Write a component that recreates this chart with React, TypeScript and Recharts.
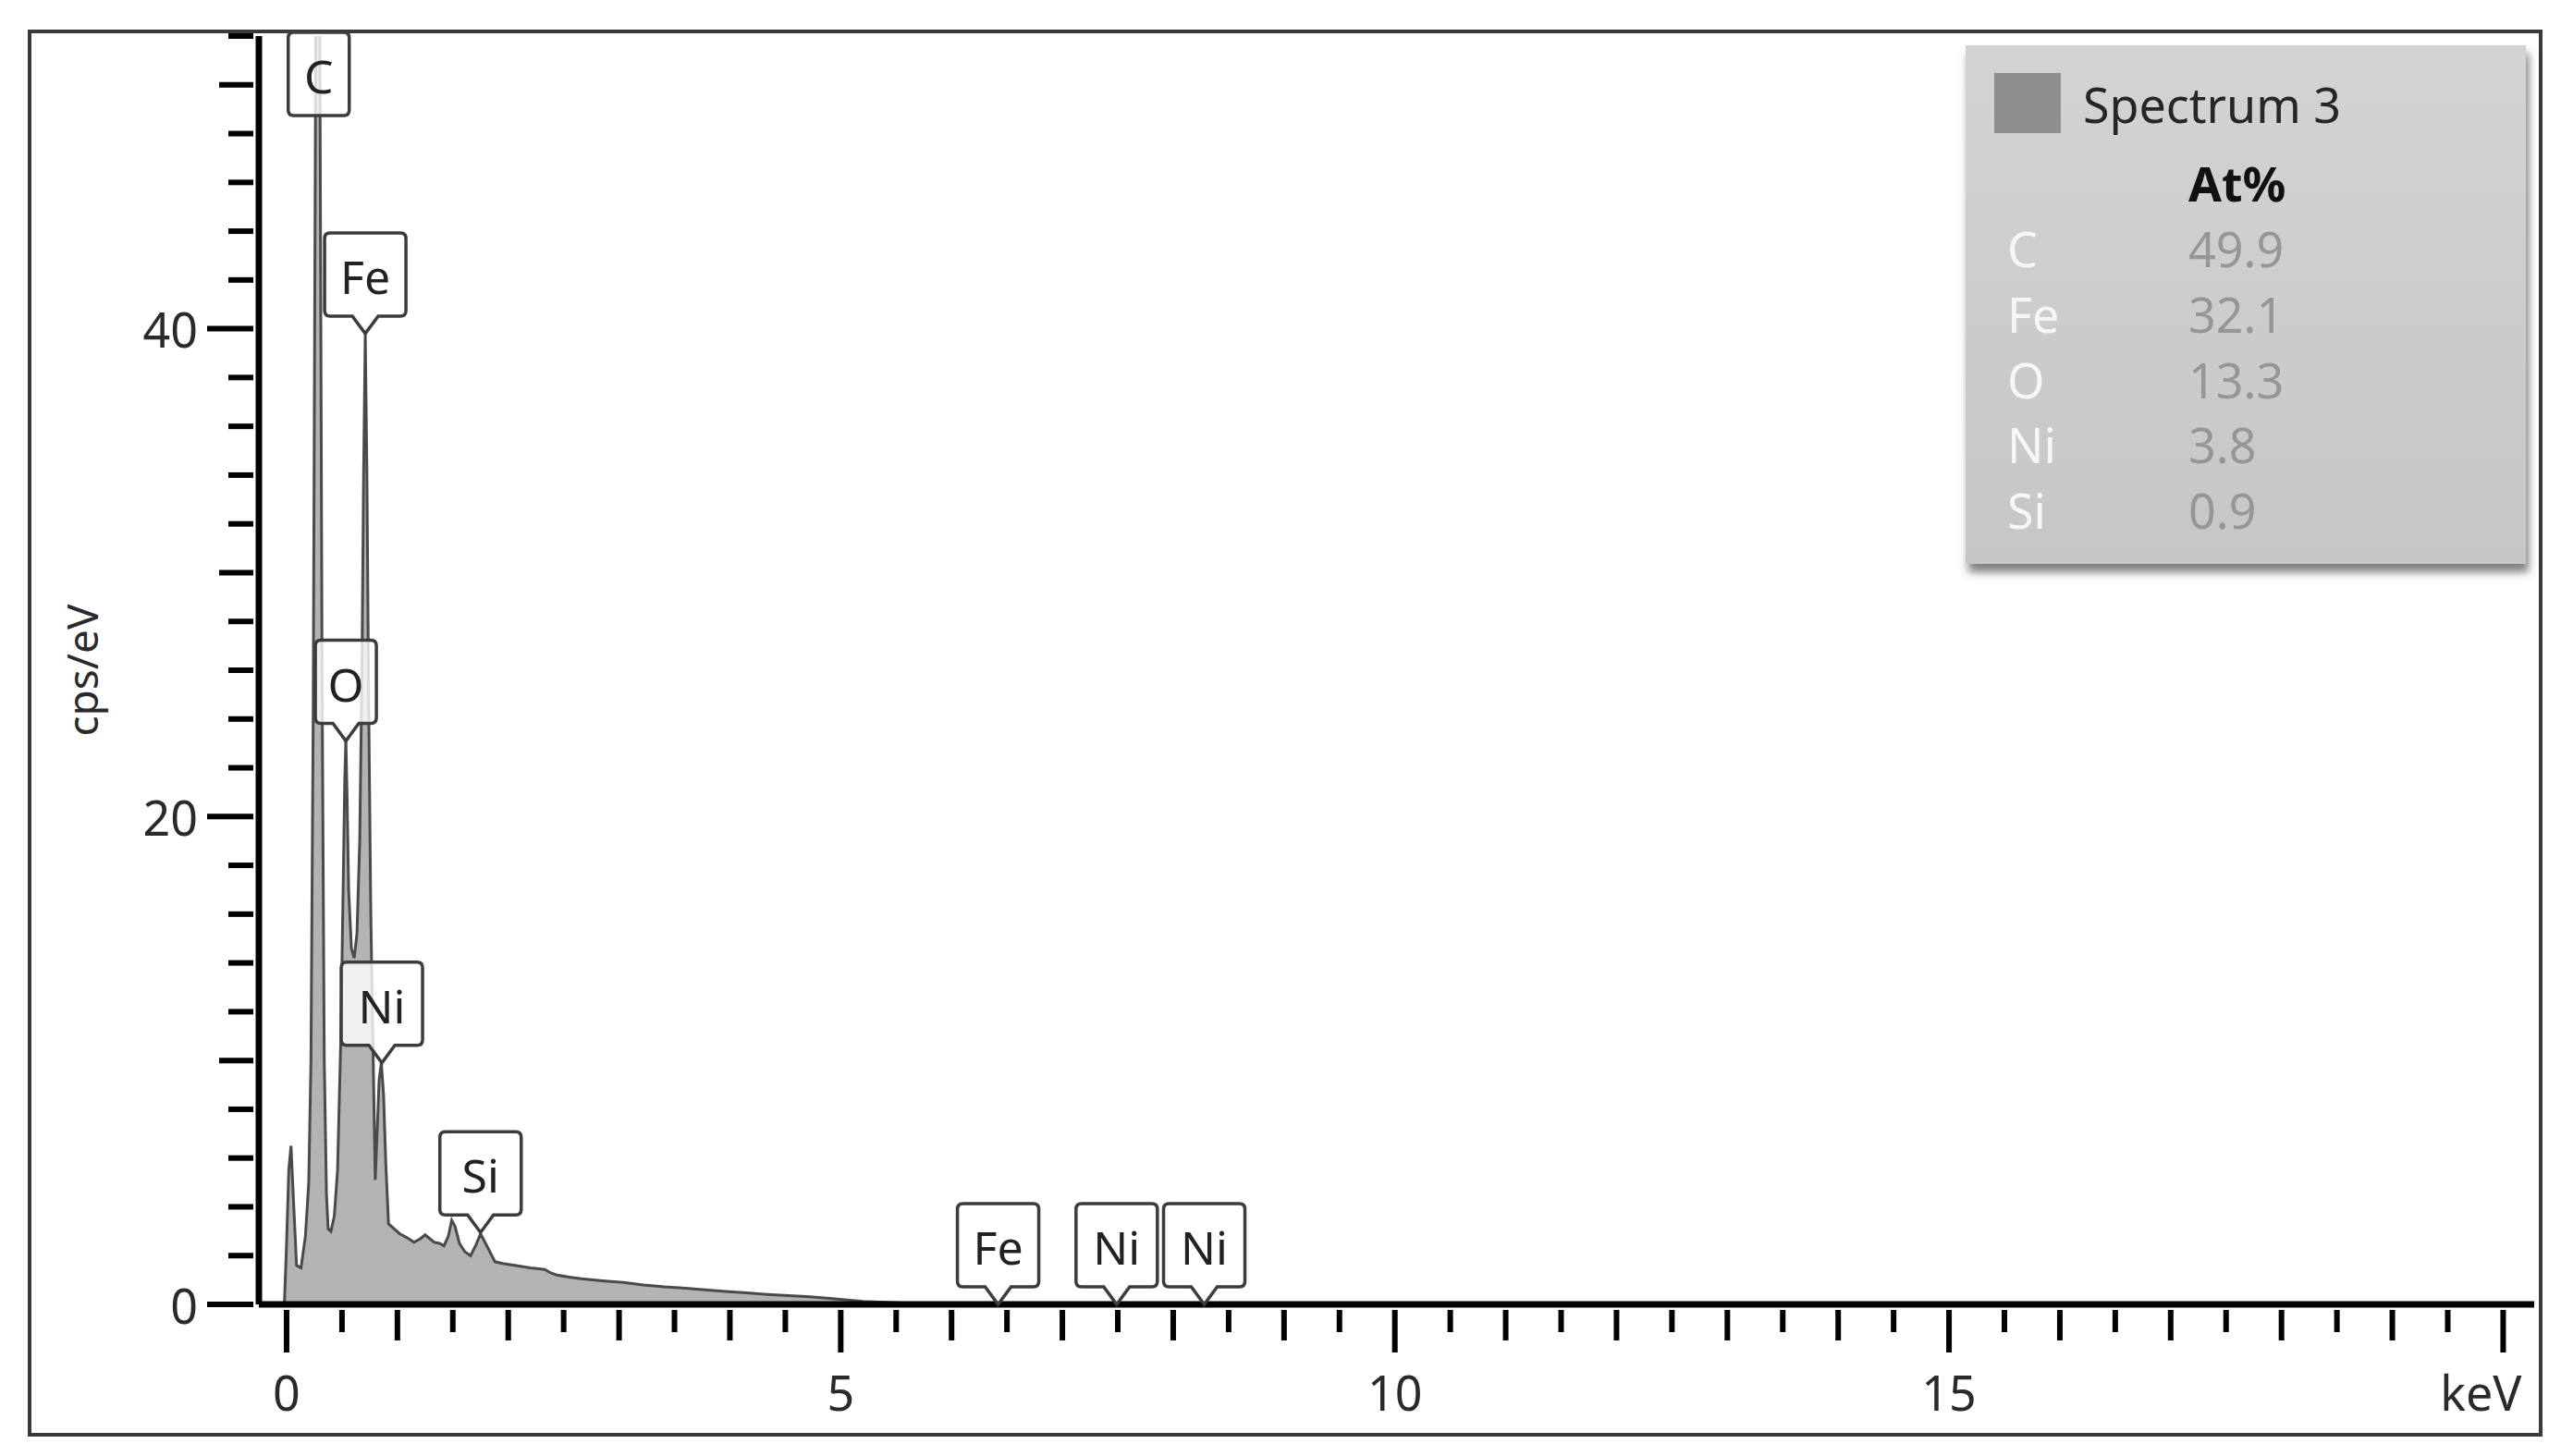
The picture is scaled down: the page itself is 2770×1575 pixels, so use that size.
import { Area, AreaChart, ReferenceDot, XAxis, YAxis } from "recharts";

// EDS spectrum: energy (keV) against counts (cps/eV).
const energyKeV = [
  -0.25, -0.02, 0.0, 0.02, 0.04, 0.06, 0.09, 0.13, 0.17, 0.2,
  0.22, 0.24, 0.26, 0.28, 0.3, 0.32, 0.34, 0.36, 0.375, 0.4,
  0.43, 0.46, 0.49, 0.51, 0.525, 0.535, 0.545, 0.56, 0.585, 0.61,
  0.635, 0.66, 0.68, 0.695, 0.71, 0.725, 0.74, 0.76, 0.78, 0.8,
  0.815, 0.835, 0.855, 0.875, 0.895, 0.92, 0.97, 1.02, 1.06, 1.1,
  1.15, 1.21, 1.25, 1.29, 1.33, 1.38, 1.42, 1.46, 1.49, 1.52,
  1.56, 1.61, 1.66, 1.71, 1.75, 1.79, 1.83, 1.88, 1.95, 2.03,
  2.11, 2.2, 2.28, 2.33, 2.38, 2.44, 2.55, 2.66, 2.85, 3.04,
  3.22, 3.41, 3.6, 3.78, 3.96, 4.15, 4.34, 4.53, 4.72, 4.9,
  5.2, 5.6, 6.5, 8.0, 20.28,
];
const countsPerEv = [
  0, 0, 2.5, 5.5, 6.5, 4.5, 1.6, 1.5, 2.8, 5,
  10, 24, 48, 70, 52, 26, 10, 4.5, 3.1, 3.0,
  3.6, 5.5, 11, 17, 21.5, 23.2, 21, 17, 14.6, 14.2,
  15.2, 19, 26, 34, 39.8, 34, 25, 16, 10.5, 5.1,
  6.8, 9.2, 9.9, 8.6, 5.8, 3.3, 3.1, 2.9, 2.8, 2.7,
  2.55, 2.7, 2.85, 2.7, 2.55, 2.5, 2.4, 2.8, 3.45, 3.2,
  2.5, 2.15, 2.0, 2.45, 2.9, 2.55, 2.2, 1.75, 1.68, 1.62,
  1.56, 1.5, 1.46, 1.43, 1.3, 1.2, 1.12, 1.05, 0.97, 0.9,
  0.8, 0.72, 0.66, 0.6, 0.53, 0.47, 0.41, 0.36, 0.31, 0.25,
  0.12, 0.05, 0.02, 0.01, 0,
];

// Peak identification markers (C runs off the top of the scale)
const peakSymbols = ["C", "O", "Fe", "Ni", "Si", "Fe", "Ni", "Ni"];
const peakEnergies = [0.29, 0.535, 0.71, 0.86, 1.75, 6.42, 7.49, 8.28];
const peakHeights = [52, 23.1, 39.8, 9.9, 2.95, 0, 0, 0];

// Quantification table
const quantElements = ["C", "Fe", "O", "Ni", "Si"];
const quantAtPct = ["49.9", "32.1", "13.3", "3.8", "0.9"];
const spectrumName = "Spectrum 3";

// Axes
const xTicks = [
  0, 0.5, 1, 1.5, 2, 2.5, 3, 3.5, 4, 4.5, 5, 5.5, 6, 6.5, 7, 7.5, 8, 8.5, 9, 9.5, 10,
  10.5, 11, 11.5, 12, 12.5, 13, 13.5, 14, 14.5, 15, 15.5, 16, 16.5, 17, 17.5, 18, 18.5, 19, 19.5, 20,
];
const xTickLabels: Record<number, string> = { 0: "0", 5: "5", 10: "10", 15: "15", 20: "keV" };
const yTicks = [0, 2, 4, 6, 8, 10, 12, 14, 16, 18, 20, 22, 24, 26, 28, 30, 32, 34, 36, 38, 40, 42, 44, 46, 48, 50, 52];
const yTickLabels = [0, 20, 40];
const yMax = 52;

const data = energyKeV.map((e, i) => ({ e, cps: countsPerEv[i] }));

const FONT = "'Noto Sans', 'Open Sans', sans-serif";
const INK = "#2a2a2a";

function XTick({ x, y, payload }: any) {
  const v = payload.value as number;
  const len = v % 5 === 0 ? 46 : Number.isInteger(v) ? 33 : 24;
  const label = xTickLabels[v];
  const isUnit = v === 20;
  return (
    <g>
      <line x1={x} x2={x} y1={y} y2={y + len} stroke="#000" strokeWidth={6} />
      {label && (
        <text
          x={isUnit ? x + 20 : x}
          y={y + 88}
          textAnchor={isUnit ? "end" : "middle"}
          dominantBaseline="central"
          fontFamily={FONT}
          fontSize={52}
          fill={INK}
        >
          {label}
        </text>
      )}
    </g>
  );
}

function YTick({ x, y, payload }: any) {
  const v = payload.value as number;
  const len = v % 20 === 0 ? 50 : v % 10 === 0 ? 37 : 27;
  return (
    <g>
      <line x1={x - len} x2={x} y1={y} y2={y} stroke="#000" strokeWidth={6} />
      {yTickLabels.includes(v) && (
        <text
          x={x - 60}
          y={y}
          textAnchor="end"
          dominantBaseline="central"
          fontFamily={FONT}
          fontSize={52}
          fill={INK}
        >
          {v}
        </text>
      )}
    </g>
  );
}

function YTitle({ viewBox }: any) {
  const cx = viewBox.x - 132;
  const cy = viewBox.y + viewBox.height / 2;
  return (
    <text
      x={cx}
      y={cy}
      transform={`rotate(-90 ${cx} ${cy})`}
      textAnchor="middle"
      dominantBaseline="central"
      fontFamily={FONT}
      fontSize={46}
      fill={INK}
    >
      cps/eV
    </text>
  );
}

// Callout box with a notch pointing down at the peak; pinned boxes sit at the top edge.
function PeakMarker({ cx, cy, symbol, pinned }: any) {
  const w = symbol.length > 1 ? 88 : 66;
  const h = 90;
  const ptr = 19;
  const half = 14;
  const r = 6;
  const left = cx - w / 2;
  const right = cx + w / 2;
  const top = pinned ? cy - 4 : cy - ptr - h;
  const bottom = top + h;
  const notch = pinned ? "" : `H ${cx + half} L ${cx} ${cy} L ${cx - half} ${bottom} `;
  const d =
    `M ${left + r} ${top} H ${right - r} Q ${right} ${top} ${right} ${top + r} ` +
    `V ${bottom - r} Q ${right} ${bottom} ${right - r} ${bottom} ` +
    notch +
    `H ${left + r} Q ${left} ${bottom} ${left} ${bottom - r} V ${top + r} Q ${left} ${top} ${left + r} ${top} Z`;
  return (
    <g>
      <path d={d} fill="#ffffff" fillOpacity={0.8} stroke="#3c3c3c" strokeWidth={3.5} />
      <text
        x={cx}
        y={top + h / 2 + 2}
        textAnchor="middle"
        dominantBaseline="central"
        fontFamily={FONT}
        fontSize={50}
        fill="#222"
      >
        {symbol}
      </text>
    </g>
  );
}

function QuantPanel() {
  return (
    <div
      style={{
        position: "absolute",
        left: 2126,
        top: 49,
        width: 606,
        height: 561,
        background: "linear-gradient(180deg, #d3d3d3 0%, #c6c6c6 100%)",
        boxShadow: "3px 9px 9px rgba(0,0,0,0.5)",
      }}
    >
      <svg width={606} height={561} style={{ display: "block" }}>
        <rect x={31} y={30} width={72} height={65} fill="#8e8e8e" />
        <text x={127} y={84} fontFamily={FONT} fontSize={52} fill="#262626">
          {spectrumName}
        </text>
        <text x={241} y={169} fontFamily={FONT} fontSize={52} fontWeight={700} fill="#111">
          At%
        </text>
        {quantElements.map((el, i) => (
          <g key={el}>
            <text x={45} y={240 + i * 70.8} fontFamily={FONT} fontSize={52} fill="#f6f6f6">
              {el}
            </text>
            <text x={241} y={240 + i * 70.8} fontFamily={FONT} fontSize={52} fill="#969696">
              {quantAtPct[i]}
            </text>
          </g>
        ))}
      </svg>
    </div>
  );
}

export default function App() {
  return (
    <div style={{ position: "fixed", left: 0, top: 0, width: 2770, height: 1575, background: "#fff" }}>
      <div
        style={{
          position: "absolute",
          left: 30,
          top: 32,
          width: 2712,
          height: 1514,
          border: "4px solid #3a3a3a",
        }}
      />
      <div style={{ position: "absolute", left: 0, top: 0 }}>
        <AreaChart
          width={2770}
          height={1575}
          data={data}
          margin={{ top: 39, right: 29, bottom: 104, left: 220 }}
        >
          <XAxis
            dataKey="e"
            type="number"
            domain={[-0.25, 20.28]}
            allowDataOverflow
            ticks={xTicks}
            interval={0}
            tick={<XTick />}
            tickLine={false}
            tickMargin={0}
            height={60}
            axisLine={{ stroke: "#000", strokeWidth: 7 }}
          />
          <YAxis
            type="number"
            domain={[0, yMax]}
            allowDataOverflow
            ticks={yTicks}
            interval={0}
            tick={<YTick />}
            tickLine={false}
            tickMargin={0}
            width={60}
            axisLine={{ stroke: "#000", strokeWidth: 7 }}
            label={<YTitle />}
          />
          <Area
            type="linear"
            dataKey="cps"
            stroke="#4a4a4a"
            strokeWidth={3}
            fill="#b3b3b3"
            fillOpacity={1}
            isAnimationActive={false}
            dot={false}
            activeDot={false}
          />
          {peakSymbols.map((sym, i) => (
            <ReferenceDot
              key={`${sym}-${i}`}
              x={peakEnergies[i]}
              y={peakHeights[i]}
              ifOverflow="visible"
              shape={(p: any) => (
                <PeakMarker cx={p.cx} cy={p.cy} symbol={sym} pinned={peakHeights[i] >= yMax} />
              )}
            />
          ))}
        </AreaChart>
      </div>
      <QuantPanel />
    </div>
  );
}
